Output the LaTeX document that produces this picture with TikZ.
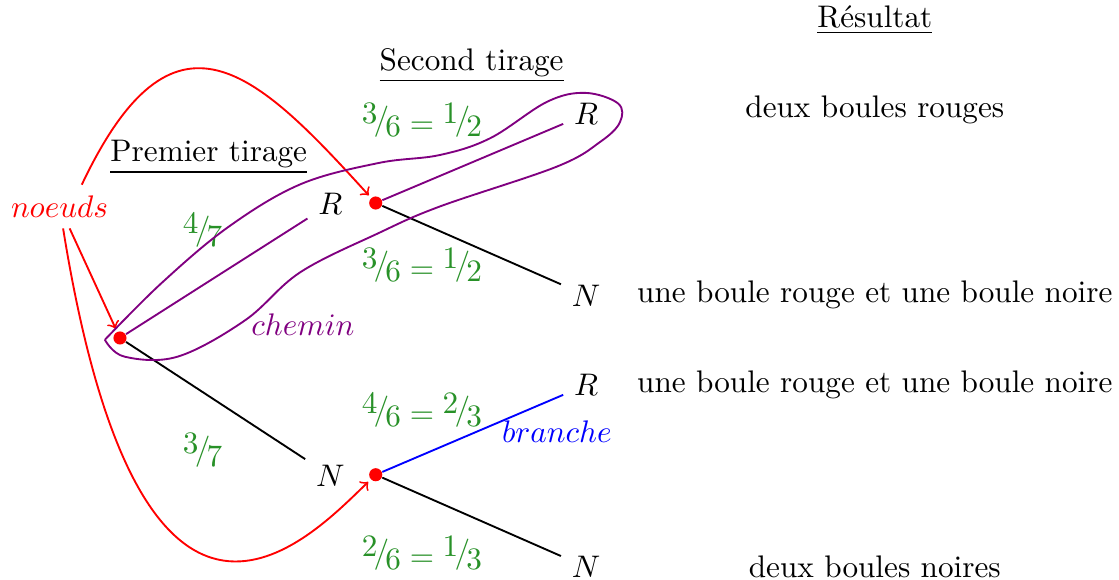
\documentclass[tikz,border=0pt]{standalone}
\definecolor{vertproba}{RGB}{40,145,40}
\definecolor{violetchemin}{RGB}{128,0,128}
\newcommand{\barre}[2]{\raisebox{.75ex}{#1}\kern-.12em\raisebox{.3ex}{/}\kern-.12em\raisebox{-.2ex}{#2}}
\begin{document}
\begin{tikzpicture}[noeud/.style={circle, fill=red, inner sep=0pt, minimum size=4.2pt},
    proba/.style={text=vertproba},
    arete/.style={semithick},
    fleche/.style={->, red, semithick, shorten >=1pt}]
  \useasboundingbox (-1.351,-2.725) rectangle (11.25,3.806);
  % Titres des colonnes
  \node (premier)  at (1.00,2.04) {\underline{Premier tirage}};
  \node (second)   at (3.96,3.07) {\underline{Second tirage}};
  \node (resultat) at (8.50,3.58) {\underline{Résultat}};
  % Premier tirage
  \node[noeud] (root) at (0,0) {};
  \node (R1) at (2.37,1.51)  {$R$};
  \node (N1) at (2.37,-1.55) {$N$};
  % Second tirage
  \node[noeud] (d1) at (2.88,1.52)  {};
  \node[noeud] (d2) at (2.88,-1.54) {};
  \node (RR) at (5.25,2.52)  {$R$};
  \node (RN) at (5.25,0.48)  {$N$};
  \node (NR) at (5.25,-0.53) {$R$};
  \node (NN) at (5.25,-2.58) {$N$};
  % Resultats
  \node (rr) at (8.50,2.57)  {deux boules rouges};
  \node (rn) at (8.50,0.48)  {une boule rouge et une boule noire};
  \node (nr) at (8.50,-0.53) {une boule rouge et une boule noire};
  \node (nn) at (8.50,-2.58) {deux boules noires};
  % Branches
  \draw[arete, violetchemin] (root)--(R1);
  \draw[arete]               (root)--(N1);
  \draw[arete, violetchemin] (d1)--(RR);
  \draw[arete]               (d1)--(RN);
  \draw[arete, blue]         (d2)--(NR);
  \draw[arete]               (d2)--(NN);
  % Probabilites
  \node[proba] (p1)  at (0.93,1.22)  {$\barre{4}{7}$};
  \node[proba] (p2)  at (0.93,-1.26) {$\barre{3}{7}$};
  \node[proba] (p11) at (3.40,2.45)  {$\barre{3}{6}=\barre{1}{2}$};
  \node[proba] (p12) at (3.40,0.82)  {$\barre{3}{6}=\barre{1}{2}$};
  \node[proba] (p21) at (3.40,-0.81) {$\barre{4}{6}=\barre{2}{3}$};
  \node[proba] (p22) at (3.40,-2.42) {$\barre{2}{6}=\barre{1}{3}$};
  % Legendes
  \node[red]          (noeuds)  at (-0.68,1.48) {$noeuds$};
  \node[violetchemin] (chemin)  at (2.06,0.15)  {$chemin$};
  \node[blue]         (branche) at (4.92,-1.06) {$branche$};
  \draw[fleche] ([xshift=0.25cm]noeuds.north) .. controls (0.60,3.90) and (1.52,3.02) .. (d1);
  \draw[fleche] (noeuds)--(root);
  \draw[fleche] (noeuds) .. controls (0.25,-4.30) and (2.14,-2.25) .. (d2);
  % Contour du chemin
  \draw[violetchemin, semithick] plot[smooth, tension=0.6] coordinates {
    (-0.17,-0.02) (0.47,0.62) (1.22,1.25) (2.03,1.73) (2.91,1.97) (3.60,2.06)
    (4.17,2.25) (4.81,2.66) (5.24,2.76) (5.61,2.64) (5.63,2.43) (5.41,2.21)
    (4.92,1.93) (3.60,1.48) (2.91,1.18) (2.03,0.74) (1.41,0.20) (0.65,-0.21)
    (0.05,-0.21) (-0.17,-0.02)};
\end{tikzpicture}
\end{document}
